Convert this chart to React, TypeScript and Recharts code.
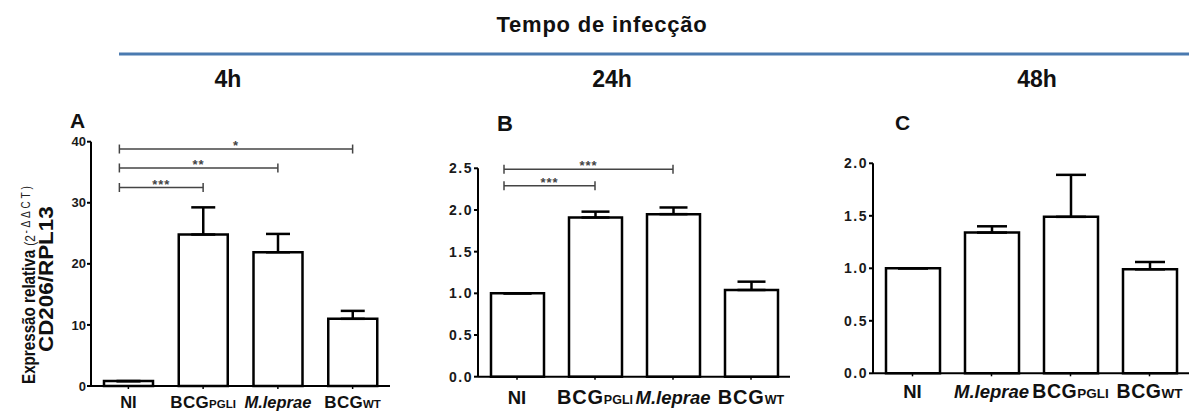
import React from 'react';
import { BarChart, Bar, XAxis, YAxis, ErrorBar, ReferenceLine } from 'recharts';

// ---------- data ----------
const categoriesA = ['NI', 'BCGPGLI', 'M.leprae', 'BCGWT'];
const valuesA = [0.8, 24.8, 21.9, 11.0];
const errorsA = [0, 4.45, 3.0, 1.3];
const ticksA = [0, 10, 20, 30, 40];

const categoriesB = ['NI', 'BCGPGLI', 'M.leprae', 'BCGWT'];
const valuesB = [1.0, 1.91, 1.95, 1.04];
const errorsB = [0, 0.07, 0.08, 0.1];
const ticksB = [0, 0.5, 1.0, 1.5, 2.0, 2.5];

const categoriesC = ['NI', 'M.leprae', 'BCGPGLI', 'BCGWT'];
const valuesC = [1.0, 1.34, 1.49, 0.99];
const errorsC = [0, 0.06, 0.4, 0.07];
const ticksC = [0, 0.5, 1.0, 1.5, 2.0];

// tick label parts: main text + small suffix
const labelMain: Record<string, string> = { NI: 'NI', BCGPGLI: 'BCG', 'M.leprae': 'M.leprae', BCGWT: 'BCG' };
const labelSub: Record<string, string> = { NI: '', BCGPGLI: 'PGLI', 'M.leprae': '', BCGWT: 'WT' };

const bracketsA = [
  { from: 'NI', to: 'BCGWT', y: 38.8, stars: '*' },
  { from: 'NI', to: 'M.leprae', y: 35.7, stars: '**' },
  { from: 'NI', to: 'BCGPGLI', y: 32.5, stars: '***' },
];
const bracketsB = [
  { from: 'NI', to: 'M.leprae', y: 2.49, stars: '***' },
  { from: 'NI', to: 'BCGPGLI', y: 2.29, stars: '***' },
];

const hourLabels = ['4h', '24h', '48h'];

const FONT = 'Arial, "Liberation Sans", Helvetica, sans-serif';

const build = (cats: string[], vals: number[], errs: number[]) =>
  cats.map((c, i) => ({ cat: c, value: vals[i], err: [0, errs[i]] }));

const CatTick = (props: any) => {
  const { x, y, payload, cfg } = props;
  const key = payload.value as string;
  const main = labelMain[key];
  const sub = labelSub[key];
  const italic = key === 'M.leprae';
  const isBcg = main === 'BCG';
  return (
    <text
      x={x}
      y={y + cfg.dy}
      textAnchor="middle"
      fontFamily={FONT}
      fontWeight="bold"
      fontStyle={italic ? 'italic' : 'normal'}
      fontSize={isBcg ? cfg.bcgFont : cfg.font}
      fill="#111"
    >
      <tspan letterSpacing={isBcg ? cfg.sp : 0}>{main}</tspan>
      {sub ? <tspan fontSize={cfg.sub}>{sub}</tspan> : null}
    </text>
  );
};

const Bracket = (props: any) => {
  const { x1, y1, x2, stars, inset } = props;
  const xl = x1 - inset;
  const xr = x2;
  const mid = (xl + xr) / 2;
  return (
    <g>
      <line x1={xl} y1={y1} x2={xr} y2={y1} stroke="#444" strokeWidth={1.5} />
      <line x1={xl} y1={y1 - 4.5} x2={xl} y2={y1 + 4.5} stroke="#444" strokeWidth={1.5} />
      <line x1={xr} y1={y1 - 4.5} x2={xr} y2={y1 + 4.5} stroke="#444" strokeWidth={1.5} />
      <text x={mid} y={y1 + 1} textAnchor="middle" fontFamily={FONT} fontWeight="bold" fontSize={13} fill="#444" letterSpacing={1}>
        {stars}
      </text>
    </g>
  );
};

type PanelProps = {
  left: number;
  width: number;
  yAxisWidth: number;
  top: number;
  right: number;
  bottom: number;
  data: any[];
  domain: [number, number];
  ticks: number[];
  fmt: (v: number) => string;
  barSize: number;
  capHalf: number;
  brackets: { from: string; to: string; y: number; stars: string }[];
  inset: number;
  tickCfg: { dy: number; font: number; bcgFont: number; sub: number; sp: number };
  yFont: number;
  ySp: number;
};

const Panel = (p: PanelProps) => (
  <div style={{ position: 'absolute', left: p.left, top: 0 }}>
    <BarChart
      width={p.width}
      height={412}
      data={p.data}
      margin={{ top: p.top, right: p.right, bottom: 0, left: 0 }}
      barSize={p.barSize}
    >
      <XAxis
        dataKey="cat"
        type="category"
        interval={0}
        height={p.bottom}
        axisLine={{ stroke: '#000', strokeWidth: 2 }}
        tickLine={{ stroke: '#000', strokeWidth: 1.5 }}
        tickSize={3}
        tickMargin={0}
        tick={<CatTick cfg={p.tickCfg} />}
      />
      <YAxis
        type="number"
        domain={p.domain}
        ticks={p.ticks}
        width={p.yAxisWidth}
        interval={0}
        axisLine={{ stroke: '#000', strokeWidth: 2 }}
        tickLine={{ stroke: '#000', strokeWidth: 2 }}
        tickSize={4}
        tickMargin={1}
        tickFormatter={p.fmt}
        tick={{ fontFamily: FONT, fontWeight: 'bold', fontSize: p.yFont, fill: '#1a1a1a', letterSpacing: p.ySp }}
      />
      <Bar dataKey="value" fill="#fff" stroke="#000" strokeWidth={2.5} isAnimationActive={false}>
        <ErrorBar dataKey="err" direction="y" width={p.capHalf} stroke="#000" strokeWidth={2.5} isAnimationActive={false} />
      </Bar>
      {p.brackets.map((b, i) => (
        <ReferenceLine
          key={i}
          ifOverflow="visible"
          segment={[
            { x: b.from, y: b.y },
            { x: b.to, y: b.y },
          ]}
          shape={(sp: any) => <Bracket {...sp} stars={b.stars} inset={p.inset} />}
        />
      ))}
    </BarChart>
  </div>
);

export default function App() {
  return (
    <div style={{ position: 'absolute', left: 0, top: 0, width: 1189, height: 412, background: '#fff', overflow: 'hidden' }}>
      <svg width={1189} height={412} style={{ position: 'absolute', left: 0, top: 0 }}>
        <text x={602} y={32} textAnchor="middle" fontFamily={FONT} fontWeight="bold" fontSize={22} fill="#111" letterSpacing={0.8}>
          Tempo de infecção
        </text>
        <line x1={119} y1={54} x2={1189} y2={54} stroke="#4A7AB0" strokeWidth={3} />
        {hourLabels.map((h, i) => (
          <text key={h} x={[228, 612, 1037][i]} y={87} textAnchor="middle" fontFamily={FONT} fontWeight="bold" fontSize={23} fill="#111">
            {h}
          </text>
        ))}
        <text x={70} y={128} fontFamily={FONT} fontWeight="bold" fontSize={21} fill="#111">A</text>
        <text x={497} y={131} fontFamily={FONT} fontWeight="bold" fontSize={22} fill="#111">B</text>
        <text x={895} y={130} fontFamily={FONT} fontWeight="bold" fontSize={21} fill="#111">C</text>
        <g transform="translate(35,384) rotate(-90) scale(0.8,1)">
          <text x={0} y={0} fontFamily={FONT} fontWeight="bold" fontSize={19} fill="#111">
            <tspan>Expressão relativa</tspan>
            <tspan fontWeight="normal" fontSize={15} fill="#222" dx={5}>(2</tspan>
            <tspan fontWeight="normal" fontSize={12.5} fill="#222" dy={-5} dx={2} letterSpacing={3.5}>-ΔΔCT)</tspan>
          </text>
        </g>
        <g transform="translate(53,352) rotate(-90) scale(1.15,1)">
          <text x={0} y={0} fontFamily={FONT} fontWeight="bold" fontSize={19.5} fill="#111">
            CD206/RPL13
          </text>
        </g>
      </svg>
      <Panel
        left={0}
        width={400}
        yAxisWidth={91}
        top={141.7}
        right={10}
        bottom={26}
        data={build(categoriesA, valuesA, errorsA)}
        domain={[0, 40]}
        ticks={ticksA}
        fmt={(v) => String(v)}
        barSize={49}
        capHalf={12}
        brackets={bracketsA}
        inset={9}
        tickCfg={{ dy: 19, font: 16.5, bcgFont: 17, sub: 11.5, sp: 0.3 }}
        yFont={13}
        ySp={0}
      />
      <Panel
        left={400}
        width={400}
        yAxisWidth={78}
        top={168.3}
        right={10}
        bottom={35.3}
        data={build(categoriesB, valuesB, errorsB)}
        domain={[0, 2.5]}
        ticks={ticksB}
        fmt={(v) => v.toFixed(1)}
        barSize={53}
        capHalf={14}
        brackets={bracketsB}
        inset={13}
        tickCfg={{ dy: 24, font: 18.5, bcgFont: 20, sub: 12.5, sp: 0.8 }}
        yFont={14}
        ySp={1.5}
      />
      <Panel
        left={800}
        width={389}
        yAxisWidth={73}
        top={163.3}
        right={0}
        bottom={38.7}
        data={build(categoriesC, valuesC, errorsC)}
        domain={[0, 2]}
        ticks={ticksC}
        fmt={(v) => v.toFixed(1)}
        barSize={54}
        capHalf={15}
        brackets={[]}
        inset={0}
        tickCfg={{ dy: 22, font: 18.5, bcgFont: 19.5, sub: 13.5, sp: 0.5 }}
        yFont={14}
        ySp={1.5}
      />
    </div>
  );
}
